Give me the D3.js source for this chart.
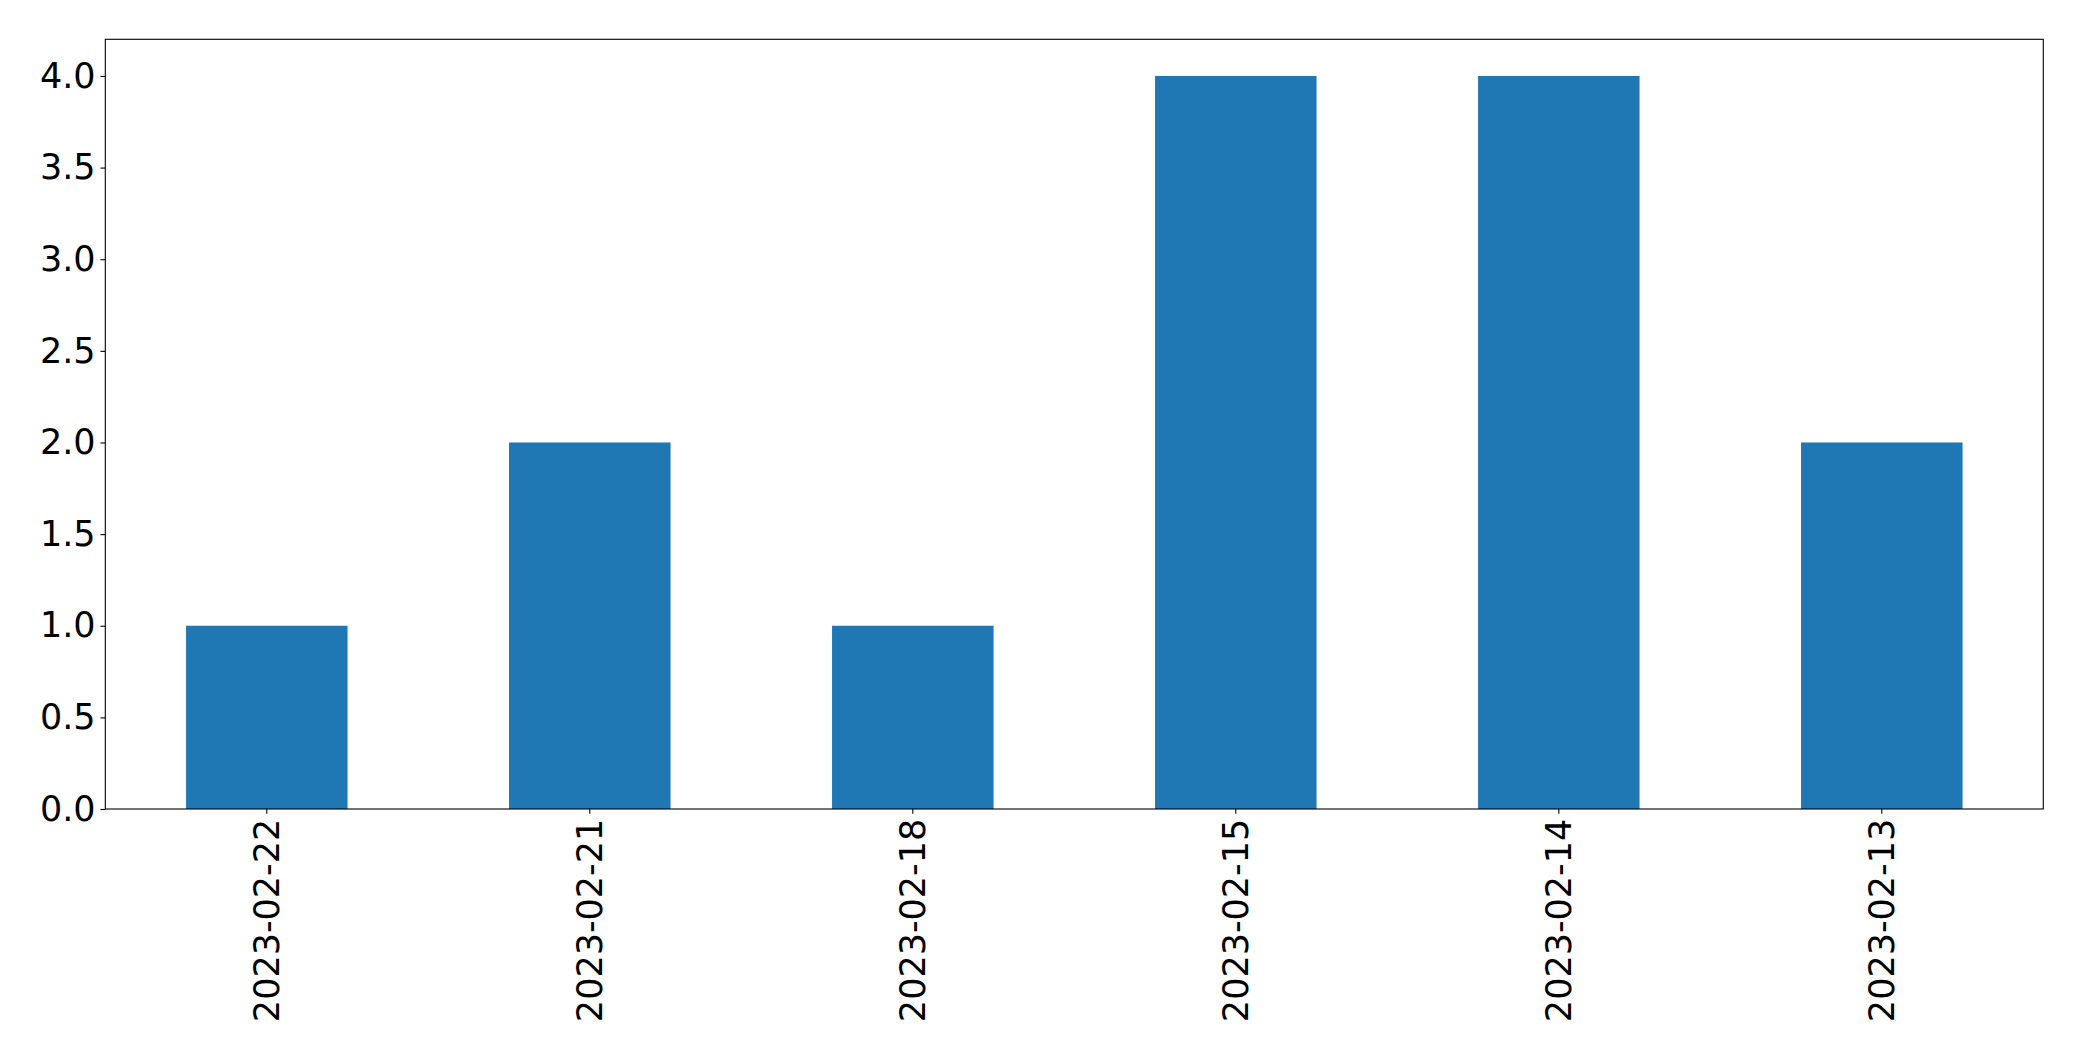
<!DOCTYPE html>
<html>
<head>
<meta charset="utf-8">
<script src="https://cdn.jsdelivr.net/npm/d3@7"></script>
<style>
html,body{margin:0;padding:0;background:#fff;}
svg{display:block;}
</style>
</head>
<body>
<svg id="chart" width="2082" height="1061"></svg>
<script>
const categories = ["2023-02-22","2023-02-21","2023-02-18","2023-02-15","2023-02-14","2023-02-13"];
const values = [1,2,1,4,4,2];
const yTicks = [0,0.5,1,1.5,2,2.5,3,3.5,4];

const W = 2082, H = 1061;
const m = {left:105.3, right:W-2043.3, top:39.3, bottom:H-809};
const iw = W - m.left - m.right, ih = H - m.top - m.bottom;
const fontSize = 35;
const font = "'DejaVu Sans', sans-serif";

const svg = d3.select("#chart");
const g = svg.append("g").attr("transform", `translate(${m.left},${m.top})`);

const x = d3.scaleBand().domain(categories).range([0, iw]).paddingInner(0.5).paddingOuter(0.25);
const y = d3.scaleLinear().domain([0, 4.2]).range([ih, 0]);

g.selectAll("rect.bar").data(values).enter().append("rect")
  .attr("class","bar")
  .attr("x",(d,i)=>x(categories[i]))
  .attr("width",x.bandwidth())
  .attr("y",d=>y(d))
  .attr("height",d=>y(0)-y(d))
  .attr("fill","#1f77b4");

const tickLen = 4.86, pad = 4.86;

const yAxis = g.append("g").call(d3.axisLeft(y).tickValues(yTicks).tickFormat(d3.format(".1f")).tickSize(tickLen).tickPadding(pad));
yAxis.select(".domain").remove();
yAxis.selectAll("line").attr("stroke","#000").attr("stroke-width",1.1);
yAxis.selectAll("text").attr("font-family",font).attr("font-size",fontSize).attr("fill","#000");

const xAxis = g.append("g").attr("transform",`translate(0,${ih})`)
  .call(d3.axisBottom(x).tickSize(tickLen).tickPadding(pad));
xAxis.select(".domain").remove();
xAxis.selectAll("line").attr("stroke","#000").attr("stroke-width",1.1);
xAxis.selectAll("text")
  .attr("font-family",font).attr("font-size",fontSize).attr("fill","#000")
  .attr("transform",`translate(0,${tickLen+pad}) rotate(-90)`)
  .attr("x",0).attr("y",0).attr("dy","0.36em")
  .attr("text-anchor","end");

g.append("rect").attr("x",0).attr("y",0).attr("width",iw).attr("height",ih)
  .attr("fill","none").attr("stroke","#000").attr("stroke-width",1.1);
</script>
</body>
</html>
